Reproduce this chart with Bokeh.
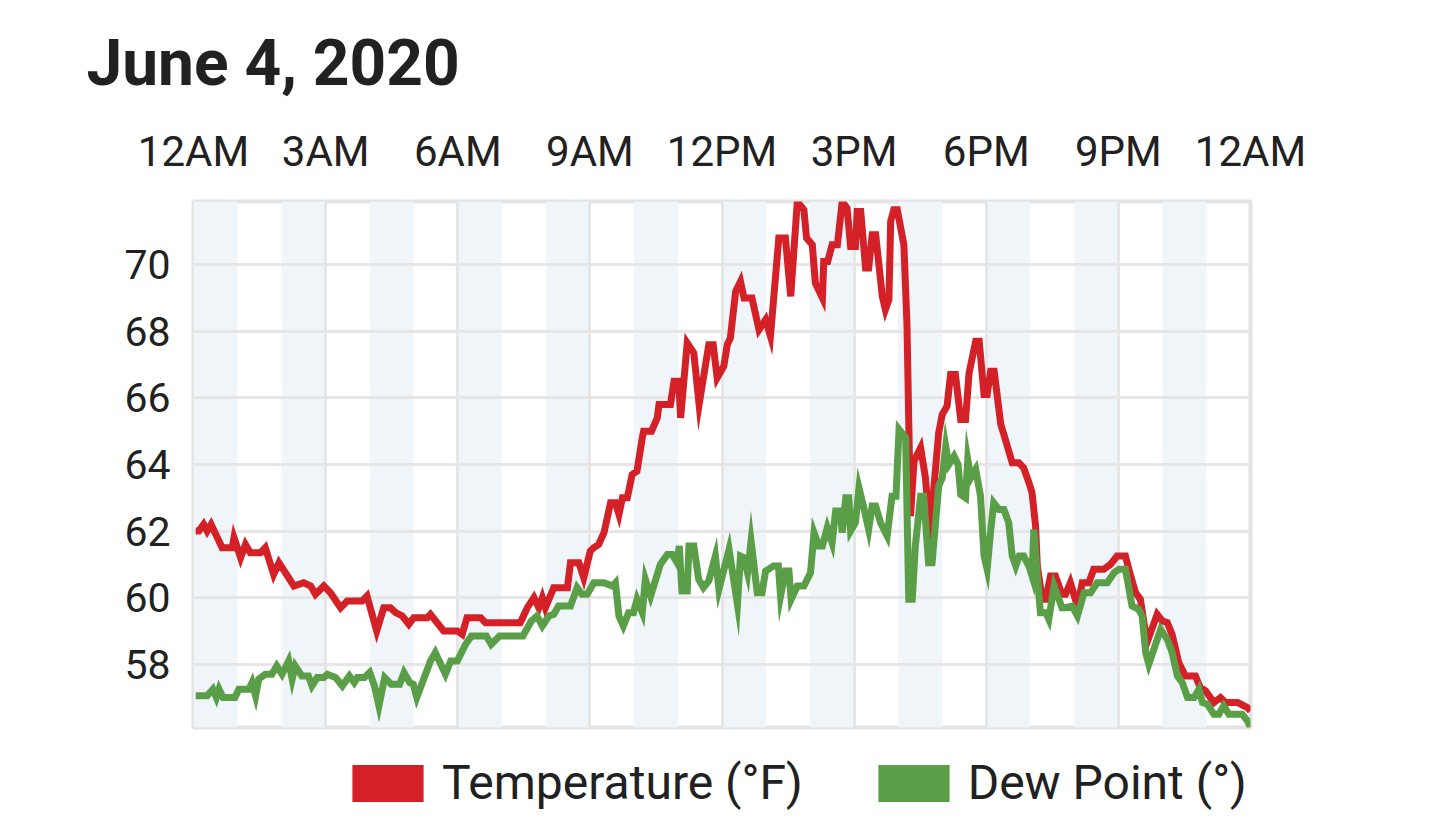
from bokeh.plotting import figure
from bokeh.layouts import column
from bokeh.models import FixedTicker, Legend, LegendItem, ColumnDataSource, Range1d
from bokeh.embed import file_html
from bokeh.resources import INLINE

title_text = "June 4, 2020"
hour_ticks = [0, 3, 6, 9, 12, 15, 18, 21, 24]
hour_labels = ["12AM", "3AM", "6AM", "9AM", "12PM", "3PM", "6PM", "9PM", "12AM"]
temp_ticks = [58, 60, 62, 64, 66, 68, 70]
series_names = ["Temperature (°F)", "Dew Point (°)"]
band_starts = [0, 2, 4, 6, 8, 10, 12, 14, 16, 18, 20, 22]

temp_hours = [0.05, 0.12, 0.23, 0.31, 0.40, 0.65, 0.88, 0.92, 1.07, 1.18, 1.29, 1.52, 1.63, 1.82, 1.94,
              2.28, 2.50, 2.66, 2.77, 2.96, 3.11, 3.34, 3.49, 3.83, 3.94, 4.16, 4.32, 4.47, 4.59, 4.74,
              4.89, 5.00, 5.31, 5.38, 5.68, 5.99, 6.10, 6.21, 6.52, 6.63, 7.42, 7.58, 7.73, 7.84, 7.92,
              7.99, 8.18, 8.49, 8.56, 8.75, 8.86, 9.01, 9.09, 9.20, 9.32, 9.47, 9.58, 9.66, 9.74, 9.85,
              9.96, 10.07, 10.19, 10.22, 10.40, 10.53, 10.57, 10.83, 10.91, 11.02, 11.06, 11.21, 11.36,
              11.48, 11.70, 11.80, 11.89, 12.04, 12.12, 12.19, 12.31, 12.42, 12.50, 12.68, 12.84, 12.99,
              13.10, 13.29, 13.44, 13.56, 13.71, 13.86, 13.92, 14.05, 14.12, 14.28, 14.31, 14.40, 14.50,
              14.62, 14.73, 14.84, 14.92, 15.03, 15.07, 15.15, 15.26, 15.33, 15.41, 15.49, 15.64, 15.71,
              15.79, 15.83, 15.90, 15.98, 16.13, 16.20, 16.28, 16.36, 16.51, 16.62, 16.73, 16.81, 16.92,
              17.00, 17.11, 17.19, 17.30, 17.42, 17.53, 17.61, 17.76, 17.84, 17.95, 18.02, 18.10, 18.18,
              18.33, 18.40, 18.59, 18.74, 18.85, 18.97, 19.04, 19.12, 19.16, 19.27, 19.35, 19.46, 19.57,
              19.72, 19.80, 19.91, 20.07, 20.18, 20.33, 20.44, 20.67, 20.82, 20.97, 21.16, 21.28, 21.39,
              21.50, 21.65, 21.88, 22.00, 22.11, 22.22, 22.37, 22.52, 22.75, 22.86, 22.98, 23.17, 23.32,
              23.43, 23.71, 23.93, 24.00]
temp_values = [62.0, 62.0, 62.2, 62.0, 62.2, 61.5, 61.5, 61.8, 61.2, 61.6, 61.35, 61.35, 61.5, 60.7, 61.05,
               60.35, 60.45, 60.35, 60.1, 60.35, 60.15, 59.7, 59.9, 59.9, 60.05, 59.0, 59.7, 59.7, 59.55, 59.45,
               59.2, 59.4, 59.4, 59.5, 59.0, 59.0, 58.9, 59.4, 59.4, 59.25, 59.25, 59.7, 60.0, 59.7, 60.0,
               59.7, 60.3, 60.3, 61.05, 61.05, 60.6, 61.4, 61.5, 61.6, 61.95, 62.85, 62.85, 62.5, 63.0, 63.0,
               63.7, 63.8, 64.8, 65.0, 65.0, 65.4, 65.8, 65.8, 66.5, 66.5, 65.4, 67.65, 67.35,
               65.8, 67.6, 67.6, 66.6, 66.95, 67.6, 67.8, 69.2, 69.5, 69.0, 69.0, 68.05, 68.35,
               67.85, 70.8, 70.8, 69.05, 71.9, 71.65, 70.8, 70.6, 69.45, 69.0, 70.1, 70.1, 70.6,
               70.6, 71.9, 71.7, 70.55, 70.55, 71.6, 71.6, 69.9, 69.9, 70.9, 70.9, 69.05, 68.65,
               68.95, 71.3, 71.65, 71.65, 70.6, 68.2, 62.45, 64.1, 64.5, 63.6, 61.75, 63.3, 64.95,
               65.5, 65.75, 66.7, 66.7, 65.35, 65.35, 66.75, 67.7, 67.7, 66.1, 66.1, 66.8, 66.8,
               65.2, 64.9, 64.05, 64.05, 63.9, 63.45, 63.15, 62.15, 60.95, 59.95, 59.95, 60.65, 60.65,
               60.1, 60.1, 60.45, 59.75, 60.45, 60.45, 60.85, 60.85, 61.0, 61.25, 61.25, 60.65, 60.15,
               59.95, 58.65, 59.5, 59.3, 59.25, 58.9, 58.05, 57.65, 57.65, 57.3, 57.2, 56.85, 57.0,
               56.85, 56.85, 56.7, 56.6]

dew_hours = [0.05, 0.31, 0.44, 0.52, 0.58, 0.67, 0.94, 1.03, 1.26, 1.33, 1.41, 1.48, 1.63, 1.78, 1.89,
             2.01, 2.16, 2.24, 2.31, 2.46, 2.61, 2.69, 2.81, 2.96, 3.04, 3.23, 3.38, 3.54, 3.65, 3.72,
             3.88, 4.00, 4.11, 4.21, 4.34, 4.49, 4.68, 4.78, 4.91, 4.99, 5.07, 5.38, 5.49, 5.72, 5.84,
             5.99, 6.18, 6.31, 6.65, 6.76, 6.95, 7.48, 7.67, 7.80, 7.92, 8.07, 8.18, 8.29, 8.56, 8.71,
             8.82, 8.94, 9.09, 9.32, 9.51, 9.58, 9.66, 9.76, 9.88, 9.99, 10.07, 10.19, 10.26, 10.38,
             10.60, 10.76, 10.87, 10.98, 11.03, 11.09, 11.21, 11.25, 11.36, 11.47, 11.58, 11.70, 11.85,
             11.93, 12.16, 12.35, 12.42, 12.50, 12.58, 12.66, 12.80, 12.91, 12.99, 13.17, 13.28, 13.33,
             13.44, 13.52, 13.57, 13.71, 13.86, 14.01, 14.09, 14.20, 14.28, 14.39, 14.50, 14.58, 14.69,
             14.73, 14.81, 14.88, 14.92, 15.03, 15.11, 15.22, 15.33, 15.41, 15.49, 15.60, 15.75, 15.86,
             15.95, 16.02, 16.17, 16.24, 16.32, 16.39, 16.51, 16.58, 16.69, 16.77, 16.92, 17.00, 17.08,
             17.15, 17.27, 17.36, 17.42, 17.53, 17.58, 17.65, 17.76, 17.87, 17.95, 18.02, 18.10, 18.17,
             18.29, 18.40, 18.51, 18.59, 18.67, 18.75, 18.85, 18.97, 19.04, 19.08, 19.16, 19.23, 19.35,
             19.42, 19.54, 19.72, 19.80, 19.95, 20.07, 20.22, 20.37, 20.52, 20.75, 20.90, 21.01, 21.16,
             21.31, 21.46, 21.54, 21.62, 21.69, 21.96, 22.11, 22.22, 22.34, 22.45, 22.57, 22.72, 22.83,
             22.91, 23.02, 23.17, 23.28, 23.39, 23.51, 23.81, 23.93, 24.00]
dew_values = [57.05, 57.05, 57.25, 57.0, 57.25, 57.0, 57.0, 57.25, 57.25, 57.45, 57.05, 57.55, 57.7, 57.7, 57.95,
              57.7, 58.1, 57.55, 57.95, 57.65, 57.65, 57.35, 57.6, 57.6, 57.7, 57.6, 57.35, 57.65, 57.45, 57.6,
              57.6, 57.75, 57.35, 56.75, 57.6, 57.4, 57.4, 57.75, 57.45, 57.4, 57.0, 58.1, 58.35, 57.7, 58.1,
              58.1, 58.6, 58.85, 58.85, 58.6, 58.85, 58.85, 59.3, 59.45, 59.15, 59.45, 59.5, 59.75, 59.75, 60.3,
              60.1, 60.1, 60.45, 60.45, 60.35, 60.45, 59.45, 59.15, 59.55, 59.55, 59.95, 59.55, 60.55, 60.05,
              61.0, 61.3, 61.3, 61.05, 61.55, 60.2, 60.2, 61.55, 61.55, 60.55, 60.3, 60.5, 61.25,
              60.25, 61.45, 59.8, 61.25, 61.2, 60.75, 61.7, 60.15, 60.15, 60.8, 60.95, 60.95, 60.05,
              60.8, 60.8, 59.95, 60.35, 60.35, 60.75, 61.95, 61.55, 61.55, 62.1, 61.65, 62.6, 62.6,
              61.95, 63.0, 63.0, 62.0, 62.25, 63.3, 62.7, 62.05, 62.75, 62.75, 62.25, 61.85, 63.05,
              63.05, 65.05, 64.8, 59.95, 59.95, 61.55, 63.05, 63.05, 61.05, 61.05, 63.35, 63.6, 64.55,
              64.0, 64.25, 64.0, 63.1, 63.0, 64.15, 63.6, 63.85, 63.05, 61.25, 60.85, 62.0, 62.85,
              62.65, 62.65, 62.25, 61.25, 60.95, 61.25, 61.25, 60.95, 60.65, 62.05, 60.65, 59.55, 59.55,
              59.35, 60.35, 59.7, 59.7, 59.75, 59.45, 60.15, 60.15, 60.45, 60.45, 60.75, 60.85, 60.85,
              59.75, 59.65, 59.45, 58.35, 58.0, 59.05, 58.75, 58.35, 57.65, 57.45, 57.0, 57.0, 57.25,
              56.85, 56.8, 56.5, 56.5, 56.75, 56.5, 56.5, 56.3, 56.1]

RED = "#d42027"
GREEN = "#5a9f47"
BAND = "#f0f5fa"
GRID = "#e6e6e6"
TEXT = "#212121"

p = figure(frame_width=1057, frame_height=526,
           min_border_left=193, min_border_right=174, min_border_top=198, min_border_bottom=10,
           x_range=Range1d(0, 24), y_range=Range1d(56.1, 71.9),
           x_axis_location="above", output_backend="svg", toolbar_location=None,
           background_fill_color="white", border_fill_color="white")

# alternating hour bands
p.quad(left=band_starts, right=[b + 1 for b in band_starts], bottom=50, top=80,
       fill_color=BAND, line_color=None, level="image")

p.xgrid.ticker = FixedTicker(ticks=hour_ticks)
p.ygrid.ticker = FixedTicker(ticks=temp_ticks)
for g in (p.xgrid, p.ygrid):
    g.grid_line_color = GRID
    g.grid_line_width = 3

p.outline_line_color = "#e3e3e3"
p.outline_line_width = 4

p.line(temp_hours, temp_values, line_width=7, line_color=RED, line_join="miter")
p.line(dew_hours, dew_values, line_width=7, line_color=GREEN, line_join="miter")

xa = p.xaxis[0]
xa.ticker = FixedTicker(ticks=hour_ticks)
xa.major_label_overrides = {t: l for t, l in zip(hour_ticks, hour_labels)}
ya = p.yaxis[0]
ya.ticker = FixedTicker(ticks=temp_ticks)
for ax in (xa, ya):
    ax.axis_line_color = None
    ax.major_tick_line_color = None
    ax.minor_tick_line_color = None
    ax.major_tick_out = 0
    ax.major_label_text_font = "Roboto"
    ax.major_label_text_color = TEXT
xa.major_label_text_font_size = "42px"
xa.major_label_standoff = 26
ya.major_label_text_font_size = "41px"
ya.major_label_standoff = 23

p.title.text = title_text
p.title.text_font = "Roboto"
p.title.text_font_size = "64px"
p.title.text_font_style = "bold"
p.title.text_color = TEXT
p.title.align = "left"
p.title.offset = -107
p.title.standoff = 46

# legend strip below the chart (its frame lines up with the chart frame)
lg = figure(width=1424, height=80, min_border=0, x_range=Range1d(0, 1), y_range=Range1d(0, 1),
            x_axis_location=None, y_axis_location=None, output_backend="svg", toolbar_location=None,
            background_fill_color="white", border_fill_color="white")
lg.grid.visible = False
lg.outline_line_color = None
# swatch renderers sit outside the visible range; only their legend swatches show
swatch = ColumnDataSource(dict(l=[-3], r=[-2], b=[-3], t=[-2]))
leg_t = lg.quad(left="l", right="r", bottom="b", top="t", source=swatch,
                fill_color=RED, line_color="white", line_width=8, line_join="miter")
leg_d = lg.quad(left="l", right="r", bottom="b", top="t", source=swatch,
                fill_color=GREEN, line_color="white", line_width=8, line_join="miter")
legend = Legend(items=[LegendItem(label=series_names[0], renderers=[leg_t]),
                       LegendItem(label=series_names[1], renderers=[leg_d])],
                orientation="horizontal", location=(145, 6),
                glyph_width=99, glyph_height=56, label_standoff=5, spacing=61,
                padding=0, margin=0, border_line_color=None, background_fill_alpha=0,
                label_text_font="Roboto", label_text_font_size="48px", label_text_color=TEXT)
lg.add_layout(legend)

layout = column(p, lg, spacing=0)
open("out.html", "w").write(file_html(layout, INLINE))
